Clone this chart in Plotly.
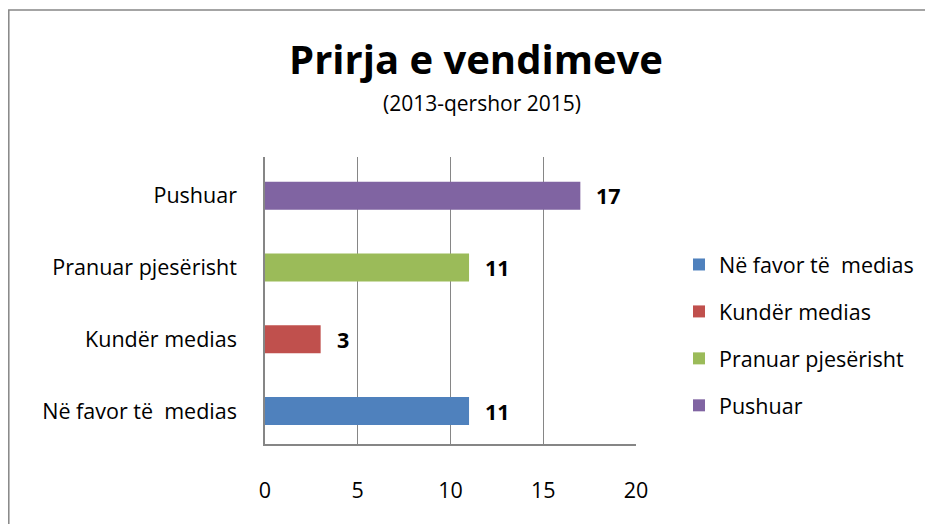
import plotly.graph_objects as go

categories = ["Në favor të  medias", "Kundër medias", "Pranuar pjesërisht", "Pushuar"]
legend_names = ["Në favor të  medias", "Kundër medias", "Pranuar pjesërisht", "Pushuar"]
values = [11, 3, 11, 17]
colors = ["#4F81BD", "#C0504D", "#9BBB59", "#8064A2"]
x_ticks = [0, 5, 10, 15, 20]

OFF = 8  # page body margin
W, H = 933 - OFF, 524 - OFF
L = 265 - OFF
T = 157 - OFF
R = W - (636 - OFF)
B = H - (444 - OFF)
PW, PH = W - L - R, H - T - B
FONT = "'Open Sans', sans-serif"
FS = 21.5

fig = go.Figure()
for cat, name, v, c in zip(categories, legend_names, values, colors):
    fig.add_trace(go.Bar(
        y=[cat], x=[v], name=name, orientation="h",
        marker=dict(color=c, line=dict(width=0)),
        width=0.39, legendgroup=name,
    ))
    fig.add_annotation(x=v, y=cat, xref="x", yref="y", text=f"<b>{v}</b>",
                       showarrow=False, xanchor="left", xshift=14,
                       font=dict(family=FONT, size=FS, color="#000000"))

def px_x(p):
    return (p - OFF - L) / PW

def px_y(p):
    return (H - B - (p - OFF)) / PH

fig.add_shape(type="rect", xref="paper", yref="paper",
              x0=px_x(8.8), x1=px_x(960), y0=px_y(570), y1=px_y(10),
              line=dict(color="#868686", width=1.5), fillcolor="rgba(0,0,0,0)", layer="below")

fig.add_annotation(xref="paper", yref="paper", x=px_x(482), y=px_y(103),
                   text="(2013-qershor 2015)", showarrow=False,
                   xanchor="center", yanchor="middle",
                   font=dict(family=FONT, size=21, color="#000000"))

fig.update_layout(
    width=W, height=H,
    margin=dict(l=L, r=R, t=T, b=B),
    paper_bgcolor="white", plot_bgcolor="white",
    barmode="overlay",
    title=dict(text="<b>Prirja e vendimeve</b>", x=(476 - OFF) / W, xanchor="center",
               y=1 - (60 - OFF) / H, yanchor="middle",
               font=dict(family=FONT, size=40, color="#000000")),
    font=dict(family=FONT, size=FS, color="#000000"),
    showlegend=True,
    legend=dict(x=px_x(679), y=px_y(244), xanchor="left", yanchor="top",
                traceorder="grouped", tracegroupgap=16,
                font=dict(family=FONT, size=FS, color="#000000"),
                itemwidth=30, bgcolor="rgba(0,0,0,0)"),
    xaxis=dict(range=[0, 20], tickvals=x_ticks, showgrid=True,
               gridcolor="#868686", gridwidth=1.2, zeroline=False,
               showline=True, linecolor="#868686", linewidth=1.5,
               ticks="", ticklabelstandoff=26, mirror=False,
               tickfont=dict(family=FONT, size=FS, color="#000000")),
    yaxis=dict(type="category", categoryorder="array", categoryarray=categories,
               range=[-0.46, 3.54],
               showgrid=False, zeroline=False, showline=True,
               linecolor="#868686", linewidth=1.5, ticks="",
               ticklabelstandoff=22,
               tickfont=dict(family=FONT, size=FS, color="#000000")),
)

fig.write_html("out.html")
